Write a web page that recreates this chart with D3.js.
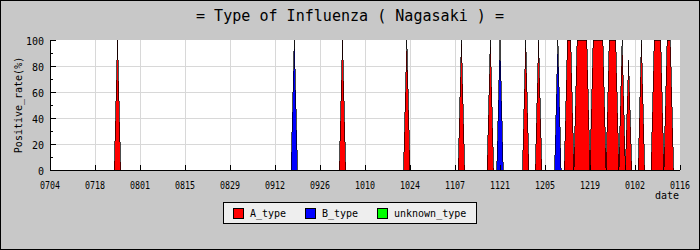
<!DOCTYPE html>
<html>
<head>
<meta charset="utf-8">
<script src="https://cdn.jsdelivr.net/npm/d3@7"></script>
<style>
  body { margin: 0; background: #c8c8c8; }
  svg { display: block; }
  text { font-family: "DejaVu Sans Mono", monospace; fill: #000; }
</style>
</head>
<body>
<script>
// tick labels (MMDD), July -> January
const tickLabels = ["0704", "0718", "0801", "0815", "0829", "0912", "0926", "1010",
    "1024", "1107", "1121", "1205", "1219", "0102", "0116"];

// A_type positive rate (%) by date
const aDates = ["0724", "0725", "0726",
    "1002", "1003", "1004",
    "1022", "1023", "1024",
    "1108", "1109", "1110",
    "1117", "1118", "1119",
    "1128", "1129", "1130",
    "1202", "1203", "1204",
    "1211", "1212", "1213", "1214", "1215", "1216", "1217", "1218", "1219",
    "1220", "1221", "1222", "1223", "1224", "1225", "1226", "1227", "1228",
    "1229", "1230", "1231", "0101",
    "0103", "0104", "0105",
    "0107", "0108", "0109", "0110", "0111", "0112", "0113", "0114"];
const aValues = [0, 100, 0,
    0, 100, 0,
    0, 100, 0,
    0, 100, 0,
    0, 100, 0,
    0, 100, 0,
    0, 100, 0,
    0, 100, 100, 0, 100, 100, 100, 100, 0,
    100, 100, 100, 100, 0, 100, 100, 100, 0,
    100, 0, 85, 0,
    0, 100, 0,
    0, 100, 100, 100, 0, 100, 100, 0];

// B_type positive rate (%) by date
const bDates = ["0917", "0918", "0919",
    "1120", "1121", "1122",
    "1208", "1209", "1210"];
const bValues = [0, 100, 0,
    0, 100, 0,
    0, 100, 0];

// unknown_type: nothing reported
const uDates = [];
const uValues = [];

const seriesNames = ["A_type", "B_type", "unknown_type"];
const seriesColors = ["#ff0000", "#0000ff", "#00ff00"];

const width = 700, height = 250;
const margin = {top: 40, right: 20, bottom: 80, left: 50};

// July..December belong to the first year, January to the next one
function parseMD(s) {
    const m = +s.slice(0, 2), d = +s.slice(2);
    return new Date(Date.UTC(m < 7 ? 2013 : 2012, m - 1, d));
}

const series = [
    {dates: aDates, values: aValues},
    {dates: bDates, values: bValues},
    {dates: uDates, values: uValues}
].map((s, i) => ({
    name: seriesNames[i],
    color: seriesColors[i],
    points: s.dates.map((d, j) => ({date: parseMD(d), value: s.values[j]}))
}));

const tickDates = tickLabels.map(parseMD);

const svg = d3.select("body").append("svg")
    .attr("width", width)
    .attr("height", height);

// outer frame
svg.append("rect")
    .attr("x", 0.5).attr("y", 0.5)
    .attr("width", width - 1).attr("height", height - 1)
    .attr("fill", "#c8c8c8")
    .attr("stroke", "#000");

const x = d3.scaleUtc()
    .domain([tickDates[0], tickDates[tickDates.length - 1]])
    .range([margin.left, width - margin.right]);

const y = d3.scaleLinear()
    .domain([0, 100])
    .range([height - margin.bottom, margin.top]);

// plot background
svg.append("rect")
    .attr("x", margin.left).attr("y", margin.top)
    .attr("width", width - margin.left - margin.right)
    .attr("height", height - margin.top - margin.bottom)
    .attr("fill", "#fff");

// grid lines
const grid = svg.append("g")
    .attr("stroke", "#d8d8d8")
    .attr("shape-rendering", "crispEdges");
grid.selectAll("line.v")
    .data(tickDates.slice(1, -1))
    .join("line")
    .attr("class", "v")
    .attr("x1", d => x(d)).attr("x2", d => x(d))
    .attr("y1", y(0)).attr("y2", y(100));
grid.selectAll("line.h")
    .data([20, 40, 60, 80])
    .join("line")
    .attr("class", "h")
    .attr("x1", x.range()[0]).attr("x2", x.range()[1])
    .attr("y1", d => y(d)).attr("y2", d => y(d));

// area for each type, filled, then its outline
const area = d3.area()
    .x(d => x(d.date))
    .y0(y(0))
    .y1(d => y(d.value));

const line = d3.line()
    .x(d => x(d.date))
    .y(d => y(d.value));

const shown = series.filter(s => s.points.length);

svg.append("g")
    .selectAll("path")
    .data(shown)
    .join("path")
    .attr("d", s => area(s.points))
    .attr("fill", s => s.color)
    .attr("shape-rendering", "crispEdges");

svg.append("g")
    .selectAll("path")
    .data(shown)
    .join("path")
    .attr("d", s => line(s.points))
    .attr("fill", "none")
    .attr("stroke", "#000")
    .attr("stroke-width", 0.7)
    .attr("shape-rendering", "crispEdges");

// x axis, ticks pointing inward
const xAxis = svg.append("g")
    .attr("transform", `translate(0, ${y(0)})`)
    .call(d3.axisBottom(x).tickValues(tickDates).tickSize(-5).tickFormat(""));
xAxis.select(".domain").attr("d", `M${x.range()[0]},0H${x.range()[1]}`);
xAxis.selectAll("line, path").attr("shape-rendering", "crispEdges");

svg.append("g")
    .selectAll("text")
    .data(tickDates)
    .join("text")
    .attr("x", d => x(d))
    .attr("y", 189)
    .attr("text-anchor", "middle")
    .attr("font-size", 10)
    .attr("textLength", 20)
    .attr("lengthAdjust", "spacingAndGlyphs")
    .text((d, i) => tickLabels[i]);

svg.append("text")
    .attr("x", 679)
    .attr("y", 199)
    .attr("text-anchor", "end")
    .attr("font-size", 10)
    .text("date");

// y axis, major and minor ticks inward
const yAxis = svg.append("g")
    .attr("transform", `translate(${margin.left}, 0)`)
    .call(d3.axisLeft(y).tickValues([0, 20, 40, 60, 80, 100]).tickSize(-6).tickFormat(""));
yAxis.select(".domain").attr("d", `M0,${y(0)}V${y(100)}`);
yAxis.selectAll("line, path").attr("shape-rendering", "crispEdges");

svg.append("g")
    .attr("transform", `translate(${margin.left}, 0)`)
    .call(d3.axisLeft(y).tickValues([10, 30, 50, 70, 90]).tickSize(-3).tickFormat(""))
    .call(g => g.select(".domain").remove())
    .selectAll("line").attr("shape-rendering", "crispEdges");

svg.append("g")
    .selectAll("text")
    .data([0, 20, 40, 60, 80, 100])
    .join("text")
    .attr("x", 44)
    .attr("y", d => y(d) + 4.5)
    .attr("text-anchor", "end")
    .attr("font-size", 10)
    .text(d => d);

svg.append("text")
    .attr("transform", `translate(22, ${(y(0) + y(100)) / 2}) rotate(-90)`)
    .attr("text-anchor", "middle")
    .attr("font-size", 10)
    .text("Positive_rate(%)");

// title
svg.append("text")
    .attr("x", 350)
    .attr("y", 21)
    .attr("text-anchor", "middle")
    .attr("font-size", 15)
    .attr("textLength", 308)
    .attr("lengthAdjust", "spacingAndGlyphs")
    .text("= Type of Influenza ( Nagasaki ) =");

// legend
const legend = svg.append("g").attr("transform", "translate(223, 202)");
legend.append("rect")
    .attr("x", 0.5).attr("y", 0.5)
    .attr("width", 253).attr("height", 21)
    .attr("fill", "#eeeeee")
    .attr("stroke", "#000");

const legendX = [10, 82, 154];
const item = legend.selectAll("g.item")
    .data(series)
    .join("g")
    .attr("class", "item")
    .attr("transform", (d, i) => `translate(${legendX[i]}, 0)`);
item.append("rect")
    .attr("x", 0.5).attr("y", 6.5)
    .attr("width", 10).attr("height", 10)
    .attr("fill", d => d.color)
    .attr("stroke", "#000");
item.append("text")
    .attr("x", 17)
    .attr("y", 15)
    .attr("font-size", 10)
    .text(d => d.name);
</script>
</body>
</html>
